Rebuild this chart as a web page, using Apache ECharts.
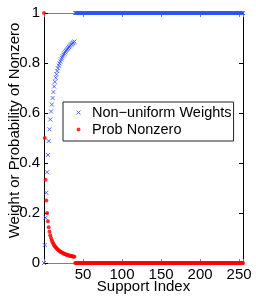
<!DOCTYPE html>
<html><head><meta charset="utf-8">
<script src="https://cdn.jsdelivr.net/npm/echarts@6/dist/echarts.min.js"></script>
<style>html,body{margin:0;padding:0;background:#fff}#c{width:256px;height:298px}</style>
</head><body><div id="c"></div>
<script>
// Support indices 0..39 (decaying / rising part)
const weightsHead = [0,0.072,0.181,0.281,0.363,0.432,0.488,0.535,0.574,0.606,
  0.634,0.66,0.684,0.706,0.725,0.741,0.755,0.768,0.779,0.789,
  0.798,0.806,0.814,0.821,0.827,0.833,0.838,0.843,0.848,0.852,
  0.856,0.86,0.864,0.867,0.871,0.874,0.877,0.88,0.883,0.886];
const probHead = [1,0.5,0.333,0.25,0.2,0.167,0.143,0.125,0.111,0.1,
  0.091,0.083,0.077,0.071,0.067,0.063,0.059,0.056,0.053,0.05,
  0.048,0.045,0.043,0.042,0.04,0.038,0.037,0.036,0.034,0.033,
  0.032,0.031,0.03,0.029,0.029,0.028,0.027,0.026,0.026,0.025];
// Support indices 40..255 (216 values each)
const weightsTail = [
1,1,1,1, 1,1,1,1, 1,1,1,1,
1,1,1,1, 1,1,1,1, 1,1,1,1,
1,1,1,1, 1,1,1,1, 1,1,1,1,
1,1,1,1, 1,1,1,1, 1,1,1,1,
1,1,1,1, 1,1,1,1, 1,1,1,1,
1,1,1,1, 1,1,1,1, 1,1,1,1,
1,1,1,1, 1,1,1,1, 1,1,1,1,
1,1,1,1, 1,1,1,1, 1,1,1,1,
1,1,1,1, 1,1,1,1, 1,1,1,1,
1,1,1,1, 1,1,1,1, 1,1,1,1,
1,1,1,1, 1,1,1,1, 1,1,1,1,
1,1,1,1, 1,1,1,1, 1,1,1,1,
1,1,1,1, 1,1,1,1, 1,1,1,1,
1,1,1,1, 1,1,1,1, 1,1,1,1,
1,1,1,1, 1,1,1,1, 1,1,1,1,
1,1,1,1, 1,1,1,1, 1,1,1,1,
1,1,1,1, 1,1,1,1, 1,1,1,1,
1,1,1,1, 1,1,1,1, 1,1,1,1];
const probTail = [
0,0,0,0, 0,0,0,0, 0,0,0,0,
0,0,0,0, 0,0,0,0, 0,0,0,0,
0,0,0,0, 0,0,0,0, 0,0,0,0,
0,0,0,0, 0,0,0,0, 0,0,0,0,
0,0,0,0, 0,0,0,0, 0,0,0,0,
0,0,0,0, 0,0,0,0, 0,0,0,0,
0,0,0,0, 0,0,0,0, 0,0,0,0,
0,0,0,0, 0,0,0,0, 0,0,0,0,
0,0,0,0, 0,0,0,0, 0,0,0,0,
0,0,0,0, 0,0,0,0, 0,0,0,0,
0,0,0,0, 0,0,0,0, 0,0,0,0,
0,0,0,0, 0,0,0,0, 0,0,0,0,
0,0,0,0, 0,0,0,0, 0,0,0,0,
0,0,0,0, 0,0,0,0, 0,0,0,0,
0,0,0,0, 0,0,0,0, 0,0,0,0,
0,0,0,0, 0,0,0,0, 0,0,0,0,
0,0,0,0, 0,0,0,0, 0,0,0,0,
0,0,0,0, 0,0,0,0, 0,0,0,0];
const xTickLabels = [50,100,150,200,250];
const yTickLabels = [0,0.2,0.4,0.6,0.8,1];
const seriesNames = ['Non\u2212uniform Weights','Prob Nonzero'];

const weights = weightsHead.concat(weightsTail);
const probs = probHead.concat(probTail);
const wData = weights.map((v,i)=>[i,v]);
const pData = probs.map((v,i)=>[i,v]);

const FONT = 'Liberation Sans';
const BLUE = '#2a4cff';
const RED = '#ff0000';
const xPath = 'path://M0,0L4,4M0,4L4,0';

const chart = echarts.init(document.getElementById('c'), null, {renderer:'canvas'});
chart.setOption({
  animation:false,
  backgroundColor:'#fff',
  textStyle:{fontFamily:FONT},
  grid:{left:44, right:13, top:13, bottom:35, containLabel:false, outerBoundsMode:'none'},
  legend:{
    left:63, top:102, orient:'vertical',
    backgroundColor:'#fff', borderColor:'#222', borderWidth:1, borderRadius:0,
    padding:[2,2,3,11], itemGap:0, itemWidth:17, itemHeight:4,
    textStyle:{fontFamily:FONT, fontSize:14.5, color:'#000', lineHeight:17},
    data:[
      {name:seriesNames[0], icon:xPath, itemStyle:{color:'none', borderColor:BLUE, borderWidth:1}},
      {name:seriesNames[1], icon:'circle', itemStyle:{color:RED, borderWidth:0}}
    ]
  },
  xAxis:[{
    type:'value', min:0, max:255, interval:50, position:'bottom',
    name:'Support Index', nameLocation:'middle', nameGap:16, nameMoveOverlap:false,
    nameTextStyle:{fontFamily:FONT, fontSize:15, color:'#000'},
    axisLine:{show:true, lineStyle:{color:'#808080', width:1}},
    axisTick:{show:true, inside:true, length:4, lineStyle:{color:'#808080'}},
    axisLabel:{fontFamily:FONT, fontSize:15, color:'#000', margin:4,
      formatter:v=> xTickLabels.indexOf(v)>=0 ? String(v) : ''},
    splitLine:{show:false}
  },{
    type:'value', min:0, max:255, interval:50, position:'top',
    axisLine:{show:true, onZero:false, lineStyle:{color:'#808080', width:1}},
    axisTick:{show:true, inside:true, length:4, lineStyle:{color:'#808080'}},
    axisLabel:{show:false}, splitLine:{show:false}
  }],
  yAxis:[{
    type:'value', min:0, max:1, interval:0.2, position:'left',
    name:'Weight or Probability of Nonzero', nameLocation:'middle', nameGap:22, nameMoveOverlap:false,
    nameTextStyle:{fontFamily:FONT, fontSize:15, color:'#000', padding:[0,0,0,15]},
    axisLine:{show:true, lineStyle:{color:'#000', width:1}},
    axisTick:{show:true, inside:true, length:4, lineStyle:{color:'#000'}},
    axisLabel:{fontFamily:FONT, fontSize:15, color:'#000', margin:4,
      formatter:v=>{ const r=Math.round(v*10)/10; return yTickLabels.indexOf(r)>=0 ? String(r) : ''; }},
    splitLine:{show:false}
  },{
    type:'value', min:0, max:1, interval:0.2, position:'right',
    axisLine:{show:true, onZero:false, lineStyle:{color:'#000', width:1}},
    axisTick:{show:true, inside:true, length:4, lineStyle:{color:'#000'}},
    axisLabel:{show:false}, splitLine:{show:false}
  }],
  series:[
    {name:seriesNames[0], type:'scatter', xAxisIndex:0, yAxisIndex:0, data:wData,
     symbol:xPath, symbolSize:4, clip:false,
     itemStyle:{color:'none', borderColor:BLUE, borderWidth:1}},
    {name:seriesNames[1], type:'scatter', xAxisIndex:0, yAxisIndex:0, data:pData,
     symbol:'circle', symbolSize:4, clip:false,
     itemStyle:{color:RED, borderWidth:0}}
  ]
});
</script></body></html>
